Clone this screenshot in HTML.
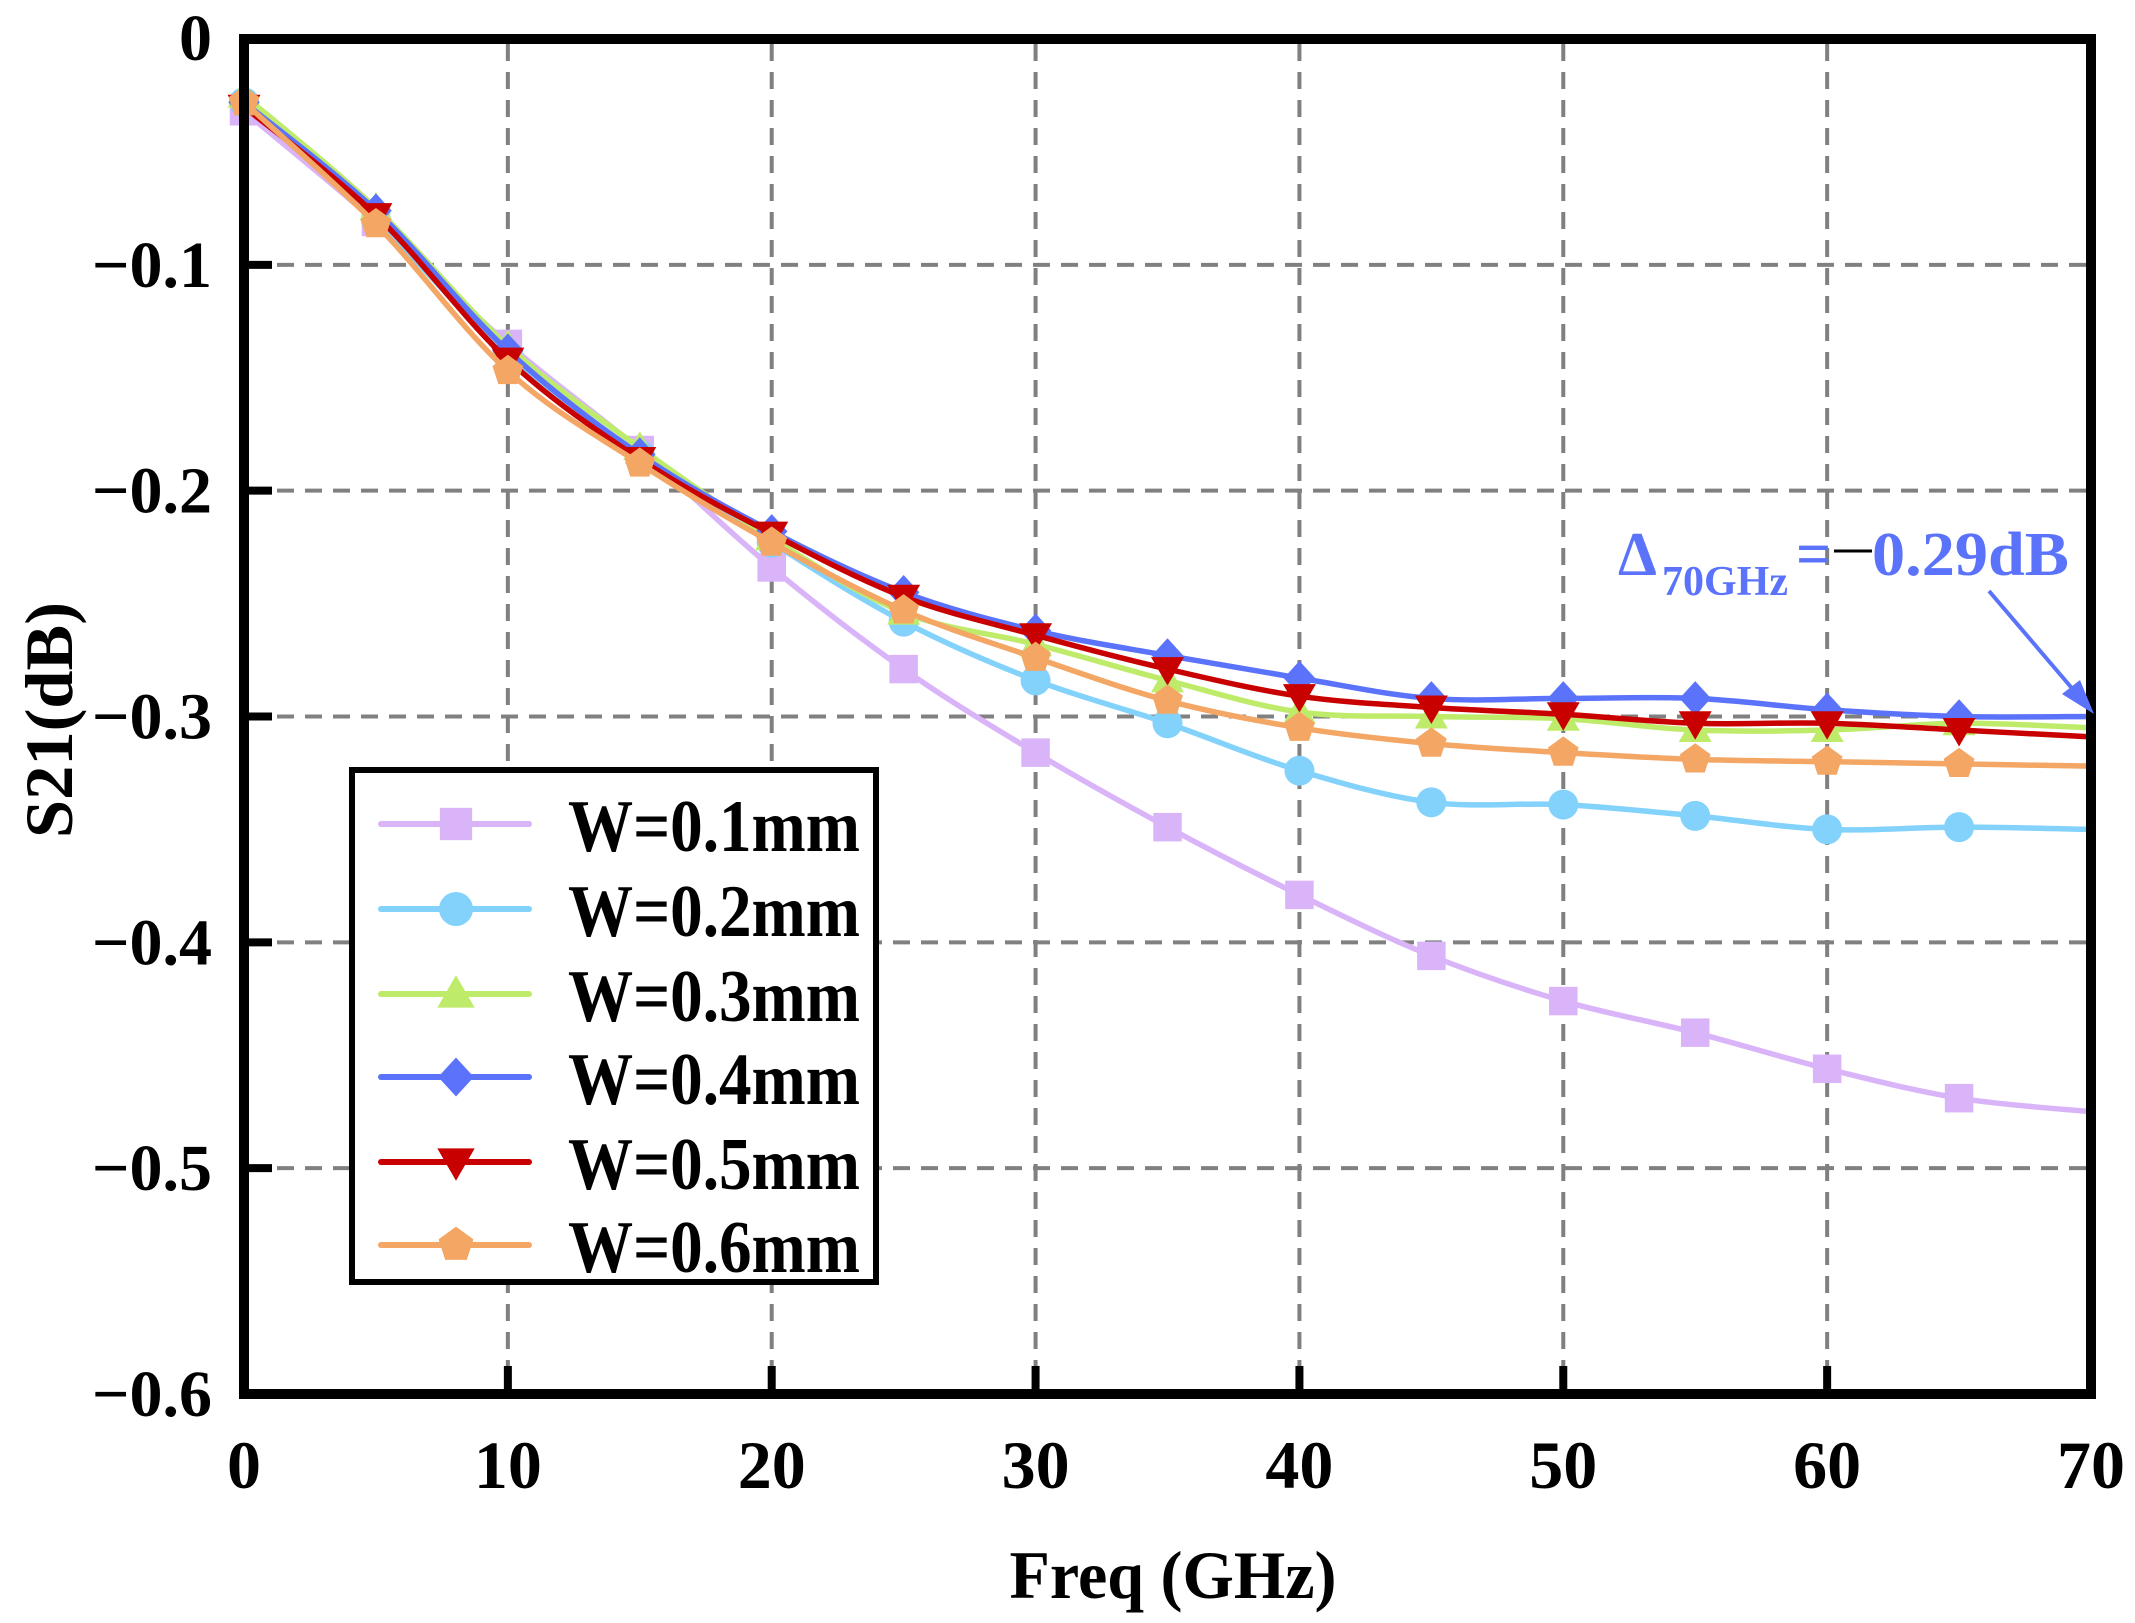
<!DOCTYPE html>
<html><head><meta charset="utf-8"><style>
html,body{margin:0;padding:0;background:#fff}
svg{display:block}
text{font-family:"Liberation Serif",serif;font-weight:bold}
</style></head><body>
<svg id="s" width="2135" height="1623" viewBox="0 0 2135 1623" xmlns="http://www.w3.org/2000/svg">
<g id="grid" stroke="#808080" stroke-width="4" stroke-dasharray="17,11" fill="none"></g>
<g id="series"></g>
<g id="ticks" stroke="#000" stroke-width="8"></g>
<rect x="244" y="39" width="1847" height="1355" fill="none" stroke="#000" stroke-width="10"/>
<g id="labels" font-size="66" fill="#000"></g>
<text x="1173" y="1598" font-size="68" text-anchor="middle" textLength="327" lengthAdjust="spacingAndGlyphs">Freq (GHz)</text>
<text transform="translate(72,720) rotate(-90)" font-size="68" text-anchor="middle" textLength="236" lengthAdjust="spacingAndGlyphs">S21(dB)</text>
<g fill="#5b73fb">
<text x="1618" y="575" font-size="62">Δ</text>
<text x="1662" y="595" font-size="42">70GHz</text>
<text x="1796" y="575" font-size="62">=</text>
<text x="1872" y="575" font-size="62" textLength="197" lengthAdjust="spacingAndGlyphs">0.29dB</text>
</g>
<line x1="1834" y1="551" x2="1872" y2="551" stroke="#000" stroke-width="3"/>
<line x1="1989" y1="591" x2="2082" y2="700" stroke="#5b73fb" stroke-width="4"/>
<polygon points="2094,714 2062,694 2080,680" fill="#5b73fb"/>
<rect x="352" y="770" width="524" height="512" fill="#fff" stroke="#000" stroke-width="6"/>
<g id="legend"></g>
</svg>
<script>
const NS="http://www.w3.org/2000/svg";
const X=f=>244+f*1847/70, Y=v=>39-v*1355/0.6;
function el(p,t,a,txt){const e=document.createElementNS(NS,t);for(const k in a)e.setAttribute(k,a[k]);if(txt!==undefined)e.textContent=txt;document.getElementById(p).appendChild(e);return e;}
for(let f=10;f<70;f+=10)el("grid","line",{x1:X(f),y1:44,x2:X(f),y2:1389});
for(let v=1;v<6;v++)el("grid","line",{x1:249,y1:Y(-v/10),x2:2086,y2:Y(-v/10)});
for(let f=10;f<70;f+=10)el("ticks","line",{x1:X(f),y1:1389,x2:X(f),y2:1366});
for(let v=1;v<6;v++)el("ticks","line",{x1:249,y1:Y(-v/10),x2:272,y2:Y(-v/10)});
for(let f=0;f<=70;f+=10)el("labels","text",{x:X(f),y:1488,"text-anchor":"middle","font-size":68},String(f));
el("labels","text",{x:212,y:60,"text-anchor":"end"},"0");
for(let v=1;v<=6;v++)el("labels","text",{x:212,y:Y(-v/10)+22,"text-anchor":"end"},"−0."+v);
const D=[
["#dab4f9","sq",[-0.032,-0.081,-0.135,-0.182,-0.234,-0.279,-0.316,-0.349,-0.379,-0.406,-0.426,-0.440,-0.456,-0.469,-0.475]],
["#82d2fb","ci",[-0.028,-0.080,-0.140,-0.184,-0.223,-0.258,-0.284,-0.303,-0.324,-0.338,-0.339,-0.344,-0.350,-0.349,-0.350]],
["#bfeb6a","tu",[-0.025,-0.075,-0.136,-0.181,-0.221,-0.254,-0.268,-0.284,-0.298,-0.300,-0.301,-0.306,-0.306,-0.303,-0.305]],
["#5b73fb","di",[-0.028,-0.076,-0.138,-0.184,-0.218,-0.245,-0.262,-0.273,-0.283,-0.292,-0.292,-0.292,-0.297,-0.300,-0.300]],
["#c80000","td",[-0.030,-0.078,-0.142,-0.186,-0.219,-0.247,-0.264,-0.279,-0.291,-0.296,-0.299,-0.303,-0.303,-0.306,-0.309]],
["#f4a665","pe",[-0.028,-0.082,-0.147,-0.188,-0.223,-0.253,-0.274,-0.293,-0.305,-0.312,-0.316,-0.319,-0.320,-0.321,-0.322]]];
function marker(g,type,x,y,c,s){
 const r=s/2;
 if(type=="sq")el(g,"rect",{x:x-r*0.95,y:y-r*0.95,width:r*1.9,height:r*1.9,fill:c});
 else if(type=="ci")el(g,"circle",{cx:x,cy:y,r:r,fill:c});
 else if(type=="tu")el(g,"polygon",{points:`${x},${y-r*1.1} ${x+r*1.1},${y+r*0.8} ${x-r*1.1},${y+r*0.8}`,fill:c});
 else if(type=="td")el(g,"polygon",{points:`${x},${y+r*1.1} ${x+r*1.1},${y-r*0.8} ${x-r*1.1},${y-r*0.8}`,fill:c});
 else if(type=="di")el(g,"polygon",{points:`${x},${y-r*1.15} ${x+r*1.05},${y} ${x},${y+r*1.15} ${x-r*1.05},${y}`,fill:c});
 else {let p=[];for(let i=0;i<5;i++){const a=-Math.PI/2+i*2*Math.PI/5;p.push((x+r*1.08*Math.cos(a))+","+(y+r*1.08*Math.sin(a)));}el(g,"polygon",{points:p.join(" "),fill:c});}
}
D.forEach(([c,t,v])=>{
 const P=v.map((y,i)=>[X(i*5),Y(y)]);
 let d="M"+P[0].join(",");
 for(let i=0;i<P.length-1;i++){const p0=P[i-1]||P[i],p1=P[i],p2=P[i+1],p3=P[i+2]||P[i+1];
  d+=` C${p1[0]+(p2[0]-p0[0])/6},${p1[1]+(p2[1]-p0[1])/6} ${p2[0]-(p3[0]-p1[0])/6},${p2[1]-(p3[1]-p1[1])/6} ${p2[0]},${p2[1]}`;}
 el("series","path",{d:d,fill:"none",stroke:c,"stroke-width":5.5,"stroke-linejoin":"round"});
 for(let i=0;i<14;i++)marker("series",t,P[i][0],P[i][1],c,30);
});
const rows=[824,909,994,1077,1162,1245];
D.forEach(([c,t],i)=>{const y=rows[i];
 el("legend","line",{x1:381,y1:y,x2:529,y2:y,stroke:c,"stroke-width":6,"stroke-linecap":"round"});
 marker("legend",t,456,y,c,34);
 el("legend","text",{x:568,y:y+27,"font-size":74,textLength:292,lengthAdjust:"spacingAndGlyphs"},"W=0."+(i+1)+"mm");
});
</script>
</body></html>
